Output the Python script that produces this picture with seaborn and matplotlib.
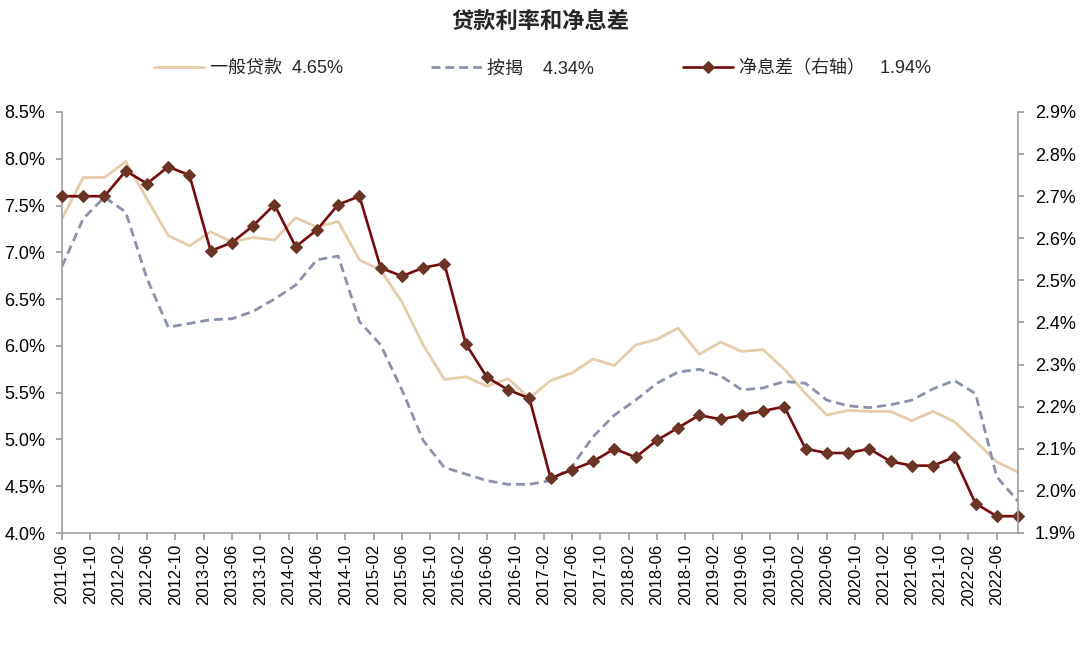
import pandas as pd
import matplotlib.pyplot as plt
import matplotlib.ticker as mticker
import seaborn as sns

# quarterly observations, 2011-06 .. 2022-09
quarters = pd.date_range('2011-06-01', '2022-09-01', freq='3MS')

general_loan = [7.36, 7.80, 7.80,
                7.97, 7.57, 7.18, 7.07,
                7.22, 7.11, 7.16, 7.13,
                7.37, 7.27, 7.33, 6.92,
                6.81, 6.47, 6.01, 5.64,
                5.67, 5.57, 5.65, 5.44,
                5.63, 5.71, 5.86, 5.79,
                6.01, 6.07, 6.19, 5.91,
                6.04, 5.94, 5.96, 5.75,
                5.49, 5.26, 5.31, 5.30,
                5.30, 5.20, 5.30, 5.19,
                4.98, 4.76, 4.65]

mortgage = [6.85, 7.36, 7.59,
            7.43, 6.72, 6.20, 6.24,
            6.28, 6.29, 6.37, 6.50,
            6.65, 6.92, 6.96, 6.26,
            6.01, 5.53, 4.99, 4.70,
            4.63, 4.56, 4.52, 4.52,
            4.56, 4.71, 5.03, 5.26,
            5.42, 5.60, 5.72, 5.75,
            5.68, 5.53, 5.55, 5.62,
            5.60, 5.42, 5.36, 5.34,
            5.37, 5.42, 5.54, 5.63,
            5.49, 4.60, 4.34]

nim = [2.70, 2.70, 2.70,
       2.76, 2.73, 2.77, 2.75,
       2.57, 2.59, 2.63, 2.68,
       2.58, 2.62, 2.68, 2.70,
       2.53, 2.51, 2.53, 2.54,
       2.35, 2.27, 2.24, 2.22,
       2.03, 2.05, 2.07, 2.10,
       2.08, 2.12, 2.15, 2.18,
       2.17, 2.18, 2.19, 2.20,
       2.10, 2.09, 2.09, 2.10,
       2.07, 2.06, 2.06, 2.08,
       1.97, 1.94, 1.94]

legend_labels = ['一般贷款  4.65%', '按揭    4.34%', '净息差（右轴）   1.94%']

df = pd.DataFrame({'date': quarters, '一般贷款': general_loan,
                   '按揭': mortgage, '净息差': nim})
df['month'] = (df['date'].dt.year - 2011) * 12 + df['date'].dt.month - 6

tick_dates = pd.date_range('2011-06-01', '2022-06-01', freq='4MS')
tick_pos = (tick_dates.year - 2011) * 12 + tick_dates.month - 6
tick_labels = tick_dates.strftime('%Y-%m')

sns.set_theme(style='ticks')
plt.rcParams['font.family'] = ['Liberation Sans', 'Noto Sans CJK SC']
plt.rcParams['axes.unicode_minus'] = False

beige = '#E6CCA8'
slate = '#8A91AD'
dark_red = '#760A0A'
brown = '#6B3424'
axis_gray = '#A0A0A0'

fig = plt.figure(figsize=(10.8, 6.51), dpi=100)
ax = fig.add_axes([62 / 1080, 1 - 533 / 651, (1018 - 62) / 1080, (533 - 112) / 651])
ax2 = ax.twinx()

sns.lineplot(data=df, x='month', y='一般贷款', ax=ax, color=beige, lw=2, legend=False)
h1 = ax.lines[-1]
sns.lineplot(data=df, x='month', y='按揭', ax=ax, color=slate, lw=2,
             linestyle=(0, (3.2, 1.8)), legend=False)
h2 = ax.lines[-1]
sns.lineplot(data=df, x='month', y='净息差', ax=ax2, color=dark_red, lw=1.9,
             marker='D', markersize=6.5, markerfacecolor=brown, markeredgecolor=brown,
             clip_on=False, legend=False)
h3 = ax2.lines[-1]

ax.set_xlim(0, 135)
ax.set_ylim(4.0, 8.5)
ax2.set_ylim(1.9, 2.9)
ax.yaxis.set_major_locator(mticker.MultipleLocator(0.5))
ax2.yaxis.set_major_locator(mticker.MultipleLocator(0.1))
ax.yaxis.set_major_formatter(mticker.FuncFormatter(lambda v, _: f'{v:.1f}%'))
ax2.yaxis.set_major_formatter(mticker.FuncFormatter(lambda v, _: f'{v:.1f}%'))
ax.set_xticks(tick_pos)
ax.set_xticklabels(tick_labels, rotation=90)

for a in (ax, ax2):
    a.set_xlabel('')
    a.set_ylabel('')
    a.spines['top'].set_visible(False)
    for s in a.spines.values():
        s.set_color(axis_gray)
        s.set_linewidth(1.2)
ax.spines['right'].set_visible(False)
ax2.spines['left'].set_visible(False)
ax2.spines['bottom'].set_visible(False)

ax.tick_params(axis='y', length=4, color=axis_gray, labelsize=13, pad=8, labelcolor='black')
ax.tick_params(axis='x', length=5, color=axis_gray, labelsize=12, pad=3, labelcolor='black')
ax2.tick_params(axis='y', length=4, color=axis_gray, labelsize=13, pad=8, labelcolor='black')

fig.text(0.5, 1 - 22 / 651, '贷款利率和净息差', ha='center', va='center',
         fontsize=16, fontweight='bold')
fig.legend([h1, h2, h3], legend_labels, loc='center', bbox_to_anchor=(0.502, 1 - 69 / 651),
           ncol=3, frameon=False, fontsize=13, handlelength=2.8, handletextpad=0.3,
           columnspacing=4.9)

fig.savefig('out.png', dpi=100, facecolor='white')
